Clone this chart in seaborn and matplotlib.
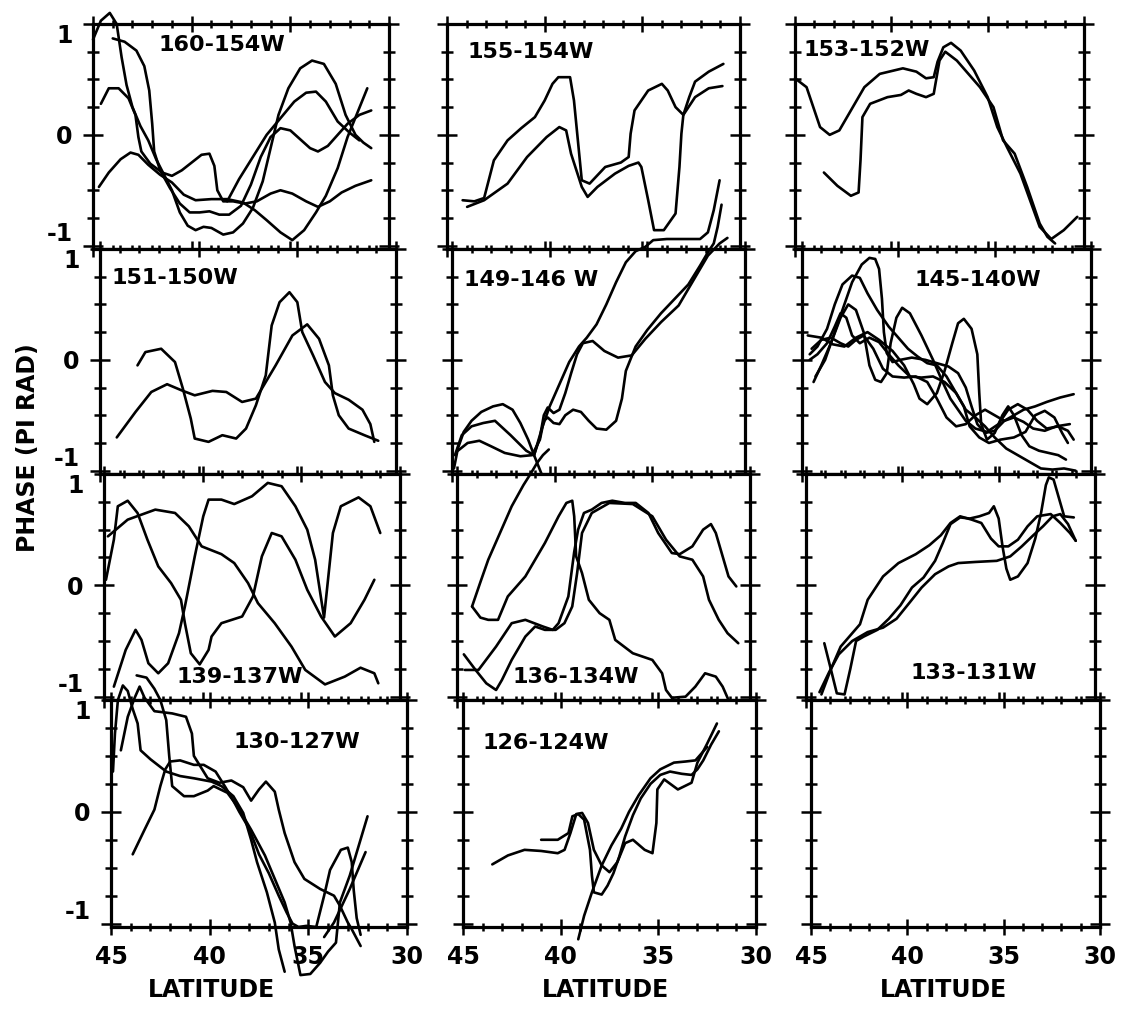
import matplotlib
matplotlib.use("Agg")
import matplotlib.pyplot as plt
import numpy as np
import pandas as pd
import seaborn as sns
from matplotlib.ticker import MultipleLocator, FixedLocator

sns.set_style("ticks")
plt.rcParams["font.family"] = ["DejaVu Sans"]
plt.rcParams["font.weight"] = "bold"
plt.rcParams["text.color"] = "black"
plt.rcParams["axes.labelcolor"] = "black"
plt.rcParams["xtick.color"] = "black"
plt.rcParams["ytick.color"] = "black"
plt.rcParams["xtick.labelcolor"] = "black"
plt.rcParams["ytick.labelcolor"] = "black"

# ---------------------------------------------------------------------------
# Phase curves: (latitude in degrees N, phase in units of pi rad)
# ---------------------------------------------------------------------------

# 160-154W
c160_a = [(45.0, 0.86), (44.6, 1.03), (44.15, 1.10), (43.8, 1.0), (43.55, 0.7), (43.3, 0.45),
          (43.0, 0.25), (42.6, 0.08), (42.2, -0.05), (41.8, -0.22), (41.4, -0.36), (41.0, -0.5),
          (40.6, -0.7), (40.2, -0.82), (39.8, -0.86), (39.4, -0.83), (39.0, -0.84), (38.4, -0.9),
          (37.9, -0.88), (37.4, -0.8), (36.9, -0.66), (36.4, -0.42), (36.0, -0.12), (35.6, 0.18),
          (35.1, 0.42), (34.5, 0.6), (33.9, 0.67), (33.3, 0.64), (32.7, 0.46), (32.2, 0.18),
          (31.7, 0.0), (31.3, -0.07), (30.9, -0.12)]
c160_b = [(44.0, 0.87), (43.4, 0.84), (42.8, 0.76), (42.4, 0.62), (42.15, 0.4), (42.0, 0.1),
          (41.9, -0.15), (41.6, -0.32), (41.1, -0.48), (40.6, -0.62), (40.1, -0.7), (39.6, -0.7),
          (39.1, -0.69), (38.6, -0.72), (38.1, -0.72), (37.5, -0.64), (37.0, -0.45), (36.5, -0.2),
          (36.0, -0.02), (35.5, 0.06), (35.0, 0.04), (34.5, -0.04), (34.0, -0.12), (33.6, -0.15),
          (33.1, -0.1), (32.6, 0.0), (32.1, 0.1), (31.5, 0.18), (30.9, 0.22)]
c160_c = [(44.6, 0.28), (44.2, 0.42), (43.7, 0.42), (43.2, 0.33), (42.85, 0.18), (42.7, -0.02),
          (42.55, -0.15), (42.1, -0.26), (41.5, -0.34), (41.0, -0.37), (40.5, -0.32), (40.0, -0.25),
          (39.5, -0.18), (39.1, -0.17), (38.85, -0.28), (38.7, -0.5), (38.4, -0.6), (37.9, -0.6),
          (37.3, -0.62), (36.7, -0.6), (36.0, -0.53), (35.5, -0.5), (34.9, -0.53), (34.2, -0.6),
          (33.6, -0.65), (33.0, -0.6), (32.4, -0.52), (31.7, -0.46), (30.9, -0.41)]
c160_d = [(44.7, -0.47), (44.2, -0.34), (43.6, -0.22), (43.1, -0.16), (42.7, -0.18), (42.2, -0.27),
          (41.6, -0.36), (41.0, -0.43), (40.4, -0.54), (39.8, -0.59), (39.0, -0.58), (38.2, -0.58),
          (37.4, -0.61), (36.8, -0.68), (36.2, -0.77), (35.5, -0.88), (34.9, -0.95), (34.3, -0.86),
          (33.7, -0.7), (33.2, -0.55), (32.6, -0.3), (32.1, -0.02), (31.6, 0.2), (31.1, 0.42)]
c160_e = [(38.2, -0.6), (37.6, -0.4), (36.9, -0.2), (36.2, 0.0), (35.5, 0.15), (34.8, 0.3),
          (34.2, 0.38), (33.7, 0.39), (33.2, 0.3), (32.6, 0.12), (32.0, 0.02), (31.5, -0.05)]

# 155-154W
c155_a = [(44.2, -0.59), (43.6, -0.6), (43.1, -0.57), (42.6, -0.23), (41.9, -0.05), (41.2, 0.06),
          (40.5, 0.16), (40.0, 0.31), (39.6, 0.46), (39.3, 0.52), (38.7, 0.52), (38.5, 0.31),
          (38.3, -0.05), (38.1, -0.41), (37.7, -0.44), (36.9, -0.29), (36.1, -0.25), (35.7, -0.2),
          (35.6, 0.01), (35.4, 0.22), (34.7, 0.40), (34.0, 0.46), (33.7, 0.40), (33.3, 0.25),
          (32.9, 0.18), (32.6, 0.34), (32.3, 0.48), (31.6, 0.57), (30.85, 0.64)]
c155_b = [(43.97, -0.65), (43.1, -0.59), (41.9, -0.44), (40.9, -0.20), (39.9, -0.02), (39.25, 0.07),
          (38.9, 0.04), (38.65, -0.17), (38.1, -0.47), (37.8, -0.56), (37.3, -0.47), (36.4, -0.35),
          (35.7, -0.28), (35.2, -0.25), (35.05, -0.29), (34.7, -0.59), (34.4, -0.86), (33.9, -0.86),
          (33.3, -0.71), (33.1, -0.29), (33.0, 0.01), (32.9, 0.18), (32.3, 0.34), (31.6, 0.42),
          (30.9, 0.44)]

# 153-152W
c153_a = [(45.0, 0.51), (44.4, 0.43), (44.05, 0.25), (43.7, 0.07), (43.2, 0.0), (42.7, 0.04),
          (42.1, 0.22), (41.4, 0.43), (40.6, 0.55), (39.4, 0.6), (38.7, 0.57), (38.2, 0.51),
          (37.8, 0.52), (37.6, 0.66), (37.3, 0.79), (36.9, 0.83), (36.4, 0.76), (35.7, 0.58),
          (35.0, 0.34), (34.5, 0.07), (34.0, -0.11), (33.3, -0.35), (32.8, -0.59), (32.3, -0.83),
          (31.7, -0.94), (31.05, -0.86), (30.35, -0.74)]
c153_b = [(43.5, -0.34), (42.8, -0.46), (42.1, -0.55), (41.7, -0.52), (41.6, -0.23), (41.5, 0.16),
          (41.1, 0.28), (40.2, 0.34), (39.5, 0.36), (39.1, 0.40), (38.7, 0.37), (38.2, 0.34),
          (37.8, 0.37), (37.5, 0.67), (37.2, 0.75), (36.6, 0.67), (35.4, 0.43), (34.7, 0.25),
          (34.2, -0.05), (33.6, -0.17), (32.95, -0.47), (32.3, -0.80), (31.9, -0.92), (31.5, -0.98)]

# 151-150W
c151_a = [(44.15, -0.70), (43.2, -0.47), (42.4, -0.29), (41.6, -0.22), (40.8, -0.28), (40.2, -0.32),
          (39.3, -0.28), (38.6, -0.29), (37.8, -0.38), (37.1, -0.35), (36.8, -0.26), (36.1, -0.05),
          (35.25, 0.22), (34.5, 0.32), (33.9, 0.19), (33.4, -0.05), (33.2, -0.32), (32.9, -0.5),
          (32.4, -0.62), (31.6, -0.68), (30.9, -0.73)]
c151_b = [(43.1, -0.05), (42.7, 0.07), (41.9, 0.10), (41.2, -0.02), (40.8, -0.26), (40.4, -0.53),
          (40.2, -0.71), (39.5, -0.74), (38.8, -0.68), (38.1, -0.71), (37.6, -0.62), (37.1, -0.41),
          (36.6, -0.14), (36.3, 0.31), (35.9, 0.52), (35.4, 0.61), (35.0, 0.52), (34.75, 0.25),
          (34.2, 0.04), (33.6, -0.2), (33.1, -0.3), (32.4, -0.36), (31.7, -0.45), (31.3, -0.58),
          (31.1, -0.74)]

# 149-146W
c149_a = [(44.9, -0.98), (44.7, -0.8), (44.4, -0.65), (44.0, -0.55), (43.5, -0.47), (42.9, -0.42),
          (42.4, -0.4), (41.9, -0.45), (41.5, -0.57), (41.1, -0.72), (40.8, -0.86), (40.55, -0.97),
          (40.3, -1.08)]
c149_b = [(44.85, -0.86), (44.5, -0.68), (44.0, -0.6), (43.4, -0.57), (42.8, -0.55), (42.0, -0.68),
          (41.2, -0.82), (40.8, -0.86), (40.5, -0.7), (40.3, -0.5), (40.1, -0.43), (39.8, -0.48),
          (39.5, -0.45), (39.2, -0.3), (38.9, -0.12), (38.6, 0.05), (38.3, 0.15), (37.8, 0.17),
          (37.2, 0.08), (36.5, 0.02), (35.8, 0.04), (35.1, 0.19), (34.3, 0.34), (33.4, 0.49),
          (32.6, 0.73), (31.9, 0.94), (31.3, 1.05), (30.9, 1.1)]
c149_c = [(44.7, -0.82), (44.2, -0.75), (43.6, -0.73), (43.0, -0.78), (42.3, -0.84), (41.5, -0.87),
          (40.9, -0.86), (40.5, -0.72), (40.3, -0.55), (40.1, -0.52), (39.8, -0.57), (39.5, -0.58),
          (39.2, -0.5), (38.8, -0.45), (38.4, -0.47), (38.0, -0.55), (37.6, -0.62), (37.1, -0.63),
          (36.6, -0.55), (36.3, -0.35), (36.1, -0.1), (35.6, 0.12), (35.0, 0.27), (34.3, 0.42),
          (33.6, 0.55), (32.9, 0.68), (32.3, 0.85), (31.9, 0.97), (31.6, 1.05), (31.4, 1.2),
          (31.2, 1.4)]
c149_d = [(40.8, -0.86), (40.4, -0.62), (40.0, -0.42), (39.5, -0.22), (39.0, -0.02), (38.5, 0.12),
          (38.1, 0.2), (37.6, 0.32), (37.1, 0.5), (36.6, 0.7), (36.1, 0.88), (35.6, 0.98),
          (35.1, 1.02), (34.7, 1.08), (34.0, 1.09), (33.3, 1.09), (32.3, 1.09), (31.9, 1.15),
          (31.6, 1.35), (31.3, 1.62)]

# 145-140W
c145_a = [(44.6, 0.05), (44.2, 0.12), (43.7, 0.28), (43.3, 0.5), (42.9, 0.68), (42.4, 0.76),
          (42.0, 0.74), (41.6, 0.6), (41.1, 0.45), (40.5, 0.3), (40.0, 0.2), (39.5, 0.1),
          (39.0, 0.03), (38.5, -0.03), (38.0, -0.05), (37.5, -0.15), (37.0, -0.3), (36.5, -0.45),
          (36.0, -0.52), (35.5, -0.6), (35.0, -0.7), (34.4, -0.8), (33.8, -0.86), (33.2, -0.92),
          (32.6, -0.98), (32.0, -0.99), (31.4, -0.98), (30.8, -1.0)]
c145_b = [(44.3, -0.15), (43.8, 0.0), (43.4, 0.2), (42.9, 0.45), (42.4, 0.7), (41.9, 0.86),
          (41.5, 0.92), (41.2, 0.91), (41.0, 0.82), (40.85, 0.55), (40.75, 0.25), (40.6, 0.06),
          (40.3, -0.02), (39.9, 0.0), (39.3, 0.02), (38.6, 0.0), (38.0, -0.03), (37.4, -0.06),
          (36.9, -0.12), (36.5, -0.25), (36.2, -0.42), (35.9, -0.58), (35.5, -0.66), (35.0, -0.64),
          (34.5, -0.55), (34.0, -0.52), (33.5, -0.56), (33.0, -0.62), (32.4, -0.64), (31.8, -0.6),
          (31.1, -0.58)]
c145_c = [(44.4, -0.2), (44.0, -0.05), (43.5, 0.15), (43.0, 0.38), (42.6, 0.5), (42.2, 0.45),
          (41.8, 0.25), (41.5, -0.05), (41.2, -0.18), (40.9, -0.2), (40.6, -0.12), (40.4, 0.15),
          (40.1, 0.38), (39.8, 0.47), (39.4, 0.42), (38.8, 0.22), (38.2, 0.0), (37.7, -0.2),
          (37.3, -0.35), (36.9, -0.45), (36.5, -0.55), (36.0, -0.62), (35.4, -0.65), (34.8, -0.58),
          (34.3, -0.45), (33.8, -0.4), (33.3, -0.45), (32.8, -0.55), (32.3, -0.62), (31.7, -0.6),
          (31.2, -0.64), (30.9, -0.72)]
c145_d = [(44.7, 0.22), (44.0, 0.2), (43.4, 0.14), (42.8, 0.12), (42.2, 0.2), (41.6, 0.25),
          (41.0, 0.18), (40.3, 0.08), (39.7, -0.05), (39.2, -0.22), (38.9, -0.35), (38.5, -0.4),
          (38.0, -0.3), (37.6, -0.1), (37.2, 0.15), (36.9, 0.33), (36.6, 0.37), (36.2, 0.28),
          (35.9, 0.05), (35.8, -0.3), (35.7, -0.58), (35.4, -0.72), (35.0, -0.66), (34.6, -0.5),
          (34.3, -0.42), (34.0, -0.5), (33.6, -0.68), (33.2, -0.78), (32.7, -0.82), (32.2, -0.84),
          (31.7, -0.86), (31.3, -0.9)]
c145_e = [(44.6, 0.0), (44.2, 0.05), (43.7, 0.15), (43.3, 0.3), (43.0, 0.42), (42.7, 0.38),
          (42.4, 0.22), (42.0, 0.15), (41.5, 0.2), (41.0, 0.16), (40.5, 0.05), (40.0, -0.05),
          (39.4, -0.15), (38.8, -0.16), (38.2, -0.15), (37.6, -0.2), (37.0, -0.3), (36.6, -0.42),
          (36.3, -0.6), (35.8, -0.7), (35.3, -0.75), (34.7, -0.72), (34.0, -0.7), (33.4, -0.65),
          (32.9, -0.5), (32.4, -0.46), (31.9, -0.52), (31.5, -0.66), (31.2, -0.75)]
c145_f = [(44.5, 0.1), (44.0, 0.18), (43.5, 0.2), (43.0, 0.15), (42.6, 0.12), (42.2, 0.18),
          (41.8, 0.22), (41.3, 0.1), (40.8, -0.08), (40.3, -0.15), (39.7, -0.16), (39.1, -0.15),
          (38.5, -0.2), (38.0, -0.35), (37.5, -0.52), (37.0, -0.6), (36.5, -0.58), (36.0, -0.5),
          (35.5, -0.45), (35.0, -0.5), (34.5, -0.55), (34.0, -0.5), (33.5, -0.45), (32.9, -0.42),
          (32.3, -0.38), (31.6, -0.34), (30.9, -0.31)]

# 139-137W
c139_a = [(44.8, 0.44), (43.8, 0.59), (42.4, 0.68), (41.4, 0.65), (40.7, 0.53), (40.05, 0.35),
          (39.05, 0.28), (38.4, 0.20), (37.7, 0.02), (37.2, -0.16), (36.35, -0.34), (35.5, -0.55),
          (34.8, -0.76), (33.8, -0.89), (32.8, -0.82), (32.0, -0.74), (31.3, -0.79), (31.1, -0.88)]
c139_b = [(44.9, 0.05), (44.5, 0.41), (44.3, 0.71), (43.8, 0.76), (43.3, 0.65), (42.8, 0.41),
          (42.25, 0.17), (41.6, 0.02), (41.1, -0.13), (40.9, -0.34), (40.6, -0.61), (40.15, -0.71),
          (39.7, -0.58), (39.55, -0.46), (39.05, -0.34), (38.0, -0.28), (37.45, -0.10), (37.0, 0.26),
          (36.5, 0.47), (36.0, 0.44), (35.3, 0.23), (34.7, -0.04), (34.0, -0.28), (33.3, -0.46),
          (32.5, -0.34), (31.8, -0.13), (31.3, 0.05)]
c139_c = [(44.5, -0.91), (43.9, -0.58), (43.4, -0.40), (43.1, -0.49), (42.75, -0.70), (42.25, -0.79),
          (41.75, -0.70), (41.2, -0.43), (40.9, -0.19), (40.4, 0.26), (39.97, 0.62), (39.7, 0.77),
          (39.05, 0.77), (38.4, 0.73), (37.5, 0.80), (36.7, 0.92), (36.0, 0.89), (35.3, 0.71),
          (34.7, 0.50), (34.3, 0.23), (33.85, -0.29), (33.4, 0.47), (33.0, 0.71), (32.1, 0.79),
          (31.5, 0.71), (31.0, 0.47)]

# 136-134W
c136_a = [(44.23, -0.19), (43.8, 0.03), (43.4, 0.23), (42.8, 0.47), (42.2, 0.71), (41.6, 0.9),
          (41.24, 1.0), (40.9, 1.1), (40.6, 1.17), (40.3, 1.22)]
c136_b = [(44.23, -0.19), (43.8, -0.29), (43.4, -0.31), (42.9, -0.31), (42.4, -0.1), (41.5, 0.08),
          (40.5, 0.38), (39.8, 0.62), (39.4, 0.74), (39.1, 0.76), (39.0, 0.62), (38.9, 0.26),
          (38.6, 0.11), (38.25, -0.13), (37.7, -0.25), (37.2, -0.31), (36.9, -0.49), (36.0, -0.61),
          (35.0, -0.67), (34.5, -0.79), (34.3, -0.94), (34.0, -1.01), (33.3, -1.0), (32.8, -0.91),
          (32.3, -0.79), (31.75, -0.82), (31.4, -0.91), (31.1, -1.03)]
c136_c = [(44.6, -0.76), (43.9, -0.76), (43.0, -0.55), (42.2, -0.34), (41.5, -0.31), (40.6, -0.37),
          (40.1, -0.4), (39.8, -0.34), (39.3, -0.1), (39.0, 0.3), (38.8, 0.5), (38.5, 0.65),
          (38.1, 0.68), (37.6, 0.74), (37.05, 0.76), (36.4, 0.74), (35.85, 0.74), (35.2, 0.65),
          (34.7, 0.47), (34.0, 0.29), (33.6, 0.28), (32.95, 0.35), (32.4, 0.5), (32.0, 0.55),
          (31.75, 0.47), (31.4, 0.26), (31.1, 0.08), (30.7, -0.01)]
c136_d = [(44.65, -0.62), (44.05, -0.76), (43.5, -0.88), (43.0, -0.94), (42.7, -0.85), (42.2, -0.67),
          (41.5, -0.46), (41.0, -0.37), (40.5, -0.4), (39.95, -0.4), (39.5, -0.34), (39.1, -0.19),
          (38.85, 0.11), (38.6, 0.47), (38.1, 0.65), (37.2, 0.74), (36.0, 0.73), (35.0, 0.62),
          (34.3, 0.41), (33.6, 0.26), (32.95, 0.23), (32.4, 0.08), (32.1, -0.13), (31.6, -0.31),
          (31.15, -0.43), (30.6, -0.52)]

# 133-131W
c133_a = [(44.2, -0.98), (43.7, -0.75), (43.2, -0.55), (42.7, -0.45), (42.2, -0.35), (41.8, -0.13),
          (41.0, 0.08), (40.2, 0.2), (39.3, 0.28), (38.6, 0.36), (38.0, 0.45), (37.5, 0.56),
          (37.0, 0.62), (36.4, 0.59), (35.9, 0.56), (35.4, 0.42), (35.0, 0.35), (34.5, 0.35),
          (34.0, 0.41), (33.5, 0.53), (33.0, 0.62), (32.3, 0.64), (31.8, 0.56), (31.3, 0.47),
          (31.0, 0.4)]
c133_b = [(44.05, -0.52), (43.7, -0.76), (43.4, -0.97), (43.0, -0.98), (42.7, -0.75), (42.4, -0.5),
          (42.0, -0.46), (41.3, -0.4), (40.7, -0.3), (40.1, -0.18), (39.5, -0.02), (38.9, 0.07),
          (38.3, 0.22), (37.9, 0.38), (37.5, 0.55), (37.0, 0.61), (36.5, 0.6), (36.0, 0.62),
          (35.5, 0.65), (35.25, 0.71), (35.0, 0.6), (34.8, 0.35), (34.6, 0.15), (34.4, 0.05),
          (34.0, 0.08), (33.5, 0.2), (33.1, 0.42), (32.8, 0.65), (32.55, 0.9), (32.4, 0.97),
          (32.15, 0.95), (31.9, 0.8), (31.6, 0.62), (31.1, 0.61)]
c133_c = [(44.3, -0.96), (43.8, -0.78), (43.3, -0.62), (42.6, -0.5), (41.8, -0.42), (41.0, -0.38),
          (40.3, -0.3), (39.6, -0.15), (39.0, -0.02), (38.3, 0.1), (37.6, 0.17), (37.1, 0.2),
          (36.2, 0.21), (35.1, 0.22), (34.4, 0.26), (33.8, 0.35), (33.2, 0.45), (32.7, 0.53),
          (32.2, 0.62), (31.8, 0.64), (31.4, 0.55), (31.0, 0.4)]

# 130-127W
c130_a = [(44.9, 0.36), (44.8, 0.7), (44.65, 1.0), (44.4, 1.13), (44.15, 1.08), (43.9, 0.92),
          (43.65, 0.79), (43.5, 0.55), (43.0, 0.47), (42.2, 0.36), (41.5, 0.32), (40.8, 0.30),
          (39.9, 0.27), (39.4, 0.23), (38.8, 0.14), (38.3, -0.01), (37.9, -0.25), (37.6, -0.45),
          (37.1, -0.72), (36.7, -0.99), (36.5, -1.23), (36.2, -1.43)]
c130_b = [(44.5, 0.55), (44.15, 0.85), (43.8, 1.02), (43.55, 1.12), (43.3, 1.02), (42.8, 0.9),
          (41.9, 0.88), (41.2, 0.85), (40.9, 0.7), (40.8, 0.5), (40.1, 0.3), (39.5, 0.26),
          (38.9, 0.28), (38.3, 0.22), (37.9, 0.1), (37.5, 0.2), (37.15, 0.27), (36.7, 0.18),
          (36.5, 0.02), (36.2, -0.19), (35.7, -0.45), (35.2, -0.6), (34.4, -0.69), (33.7, -0.75),
          (33.4, -0.84), (33.0, -0.99), (32.8, -1.05), (32.35, -1.2)]
c130_c = [(43.9, -0.38), (43.3, -0.16), (42.8, 0.02), (42.5, 0.23), (42.25, 0.38), (42.0, 0.45),
          (41.5, 0.46), (40.8, 0.42), (40.3, 0.42), (39.7, 0.36), (39.2, 0.22), (38.8, 0.1),
          (38.5, 0.0), (38.0, -0.15), (37.5, -0.38), (37.0, -0.55), (36.5, -0.75), (36.1, -0.9),
          (35.8, -1.0), (35.5, -1.03), (35.1, -1.02), (34.6, -1.03), (34.2, -0.75), (33.9, -0.52),
          (33.35, -0.34), (33.0, -0.32), (32.8, -0.45), (32.7, -0.7), (32.55, -0.95), (32.35, -1.1)]
c130_d = [(43.7, 1.22), (43.2, 1.2), (42.8, 1.1), (42.5, 1.0), (42.2, 0.82), (42.05, 0.5),
          (41.9, 0.23), (41.3, 0.14), (40.8, 0.14), (40.1, 0.19), (39.8, 0.23), (39.1, 0.17),
          (38.6, 0.05), (37.9, -0.16), (37.2, -0.39), (36.7, -0.6), (36.2, -0.81), (35.9, -0.99),
          (35.7, -1.2), (35.4, -1.46), (34.9, -1.45), (34.4, -1.35), (34.0, -1.25), (33.6, -1.17),
          (33.5, -0.99), (33.4, -0.81), (32.9, -0.57), (32.0, -0.04)]
c130_e = [(34.2, -1.12), (33.7, -0.99), (32.9, -0.69), (32.1, -0.36)]

# 126-124W
c126_a = [(43.5, -0.47), (42.7, -0.39), (41.85, -0.34), (41.0, -0.35), (40.15, -0.37), (39.8, -0.34),
          (39.5, -0.19), (39.2, -0.02), (38.9, -0.01), (38.6, -0.1), (38.3, -0.34), (37.9, -0.48),
          (37.5, -0.54), (37.1, -0.45), (36.7, -0.28), (36.3, -0.25), (35.7, -0.34), (35.3, -0.37),
          (35.1, -0.1), (35.05, 0.2), (34.7, 0.29), (34.0, 0.2), (33.3, 0.26), (33.0, 0.44),
          (32.5, 0.61), (32.0, 0.79)]
c126_b = [(41.0, -0.25), (40.15, -0.25), (39.6, -0.19), (39.4, -0.04), (39.1, -0.02), (38.8, -0.07),
          (38.5, -0.34), (38.4, -0.57), (38.3, -0.72), (37.9, -0.74), (37.6, -0.66), (37.3, -0.55),
          (37.0, -0.4), (36.7, -0.22), (36.3, -0.03), (35.9, 0.12), (35.4, 0.25), (34.9, 0.33),
          (34.4, 0.36), (33.8, 0.34), (33.3, 0.33), (33.0, 0.38), (32.7, 0.46), (32.3, 0.6),
          (31.9, 0.72)]
c126_c = [(39.1, -1.14), (38.8, -0.93), (38.4, -0.72), (37.9, -0.48), (37.4, -0.3), (36.9, -0.15),
          (36.5, 0.0), (36.0, 0.15), (35.4, 0.3), (34.9, 0.38), (34.2, 0.44), (33.6, 0.45),
          (33.1, 0.46), (32.8, 0.52), (32.5, 0.58)]

# Panel table: (row, col, band label, label x/y in axes fraction, curves)
PANELS = [
    (0, 0, "160-154W", 0.22, 0.905, [c160_a, c160_b, c160_c, c160_d, c160_e]),
    (0, 1, "155-154W", 0.07, 0.875, [c155_a, c155_b]),
    (0, 2, "153-152W", 0.03, 0.885, [c153_a, c153_b]),
    (1, 0, "151-150W", 0.04, 0.87, [c151_a, c151_b]),
    (1, 1, "149-146 W", 0.04, 0.86, [c149_a, c149_b, c149_c, c149_d]),
    (1, 2, "145-140W", 0.39, 0.86, [c145_a, c145_b, c145_c, c145_d, c145_e, c145_f]),
    (2, 0, "139-137W", 0.245, 0.10, [c139_a, c139_b, c139_c]),
    (2, 1, "136-134W", 0.19, 0.10, [c136_a, c136_b, c136_c, c136_d]),
    (2, 2, "133-131W", 0.36, 0.12, [c133_a, c133_b, c133_c]),
    (3, 0, "130-127W", 0.415, 0.815, [c130_a, c130_b, c130_c, c130_d, c130_e]),
    (3, 1, "126-124W", 0.065, 0.81, [c126_a, c126_b, c126_c]),
    (3, 2, "", 0.0, 0.0, []),
]

LAT_MAJOR = [45, 40, 35, 30]
PHASE_MAJOR = [-1, 0, 1]
PHASE_LABELS = ["-1", "0", "1"]

# ---------------------------------------------------------------------------
# Layout (pixels): each row of panels sits slightly further right
# ---------------------------------------------------------------------------
W, H = 1127, 1027
ROW_EDGES = [24, 249, 474, 700, 927]
COL_LEFT = [[93, 100, 104, 111], [447, 452, 457, 463], [795, 802, 806, 811]]
COL_WIDTH = [296, 293, 289]

FS = 17        # tick labels, axis titles
FS_BAND = 16   # band labels inside panels

fig = plt.figure(figsize=(W / 100, H / 100), dpi=100)

for row, col, label, lx, ly, curves in PANELS:
    top, bot = ROW_EDGES[row], ROW_EDGES[row + 1]
    left = COL_LEFT[col][row]
    ax = fig.add_axes([left / W, 1 - bot / H, COL_WIDTH[col] / W, (bot - top) / H])

    if curves:
        frames = []
        for i, pts in enumerate(curves):
            arr = np.asarray(pts, dtype=float)
            frames.append(pd.DataFrame({"lat": arr[:, 0], "phase": arr[:, 1], "curve": i}))
        df = pd.concat(frames, ignore_index=True)
        sns.lineplot(data=df, x="lat", y="phase", units="curve", estimator=None, sort=False,
                     color="black", linewidth=1.9, legend=False, ax=ax)
        for ln in ax.lines:
            ln.set_clip_on(False)
            ln.set_solid_joinstyle("round")
            ln.set_solid_capstyle("round")

    ax.set_xlim(45, 30)
    ax.set_ylim(-1.03, 1.0)
    ax.set_xlabel("")
    ax.set_ylabel("")

    ax.xaxis.set_major_locator(FixedLocator(LAT_MAJOR))
    ax.xaxis.set_minor_locator(MultipleLocator(1))
    ax.yaxis.set_major_locator(FixedLocator(PHASE_MAJOR))
    ax.yaxis.set_minor_locator(MultipleLocator(0.25))
    ax.set_yticklabels(PHASE_LABELS)
    ax.tick_params(which="both", direction="inout", top=True, right=True, bottom=True, left=True,
                   width=1.8, color="black", labelcolor="black")
    ax.tick_params(axis="x", which="major", length=12, pad=7)
    ax.tick_params(axis="x", which="minor", length=6)
    ax.tick_params(axis="y", which="major", length=15, pad=7)
    ax.tick_params(axis="y", which="minor", length=9)
    ax.tick_params(labelbottom=(row == 3), labelleft=(col == 0), labeltop=False, labelright=False,
                   labelsize=FS)

    # the +1 / -1 labels sit just inside their panel so neighbouring rows do not collide
    for tick, val in zip(ax.yaxis.get_major_ticks(), PHASE_MAJOR):
        tick.label1.set_fontweight("bold")
        if val == 1:
            tick.label1.set_verticalalignment("top")
        elif val == -1:
            tick.label1.set_verticalalignment("bottom")
    for tick in ax.xaxis.get_major_ticks():
        tick.label1.set_fontweight("bold")

    for sp in ax.spines.values():
        sp.set_linewidth(2.3)
        sp.set_color("black")
    ax.set_facecolor("white")

    if label:
        ax.text(lx, ly, label, transform=ax.transAxes, ha="left", va="center",
                fontsize=FS_BAND, fontweight="bold", color="black")

for xc in (211, 605, 944):
    fig.text(xc / W, 1 - 990 / H, "LATITUDE", ha="center", va="center",
             fontsize=FS, fontweight="bold", color="black")
fig.text(28 / W, 1 - 448 / H, "PHASE (PI RAD)", rotation=90, ha="center", va="center",
         fontsize=FS, fontweight="bold", color="black")

fig.savefig("out.png", dpi=100, facecolor="white")
